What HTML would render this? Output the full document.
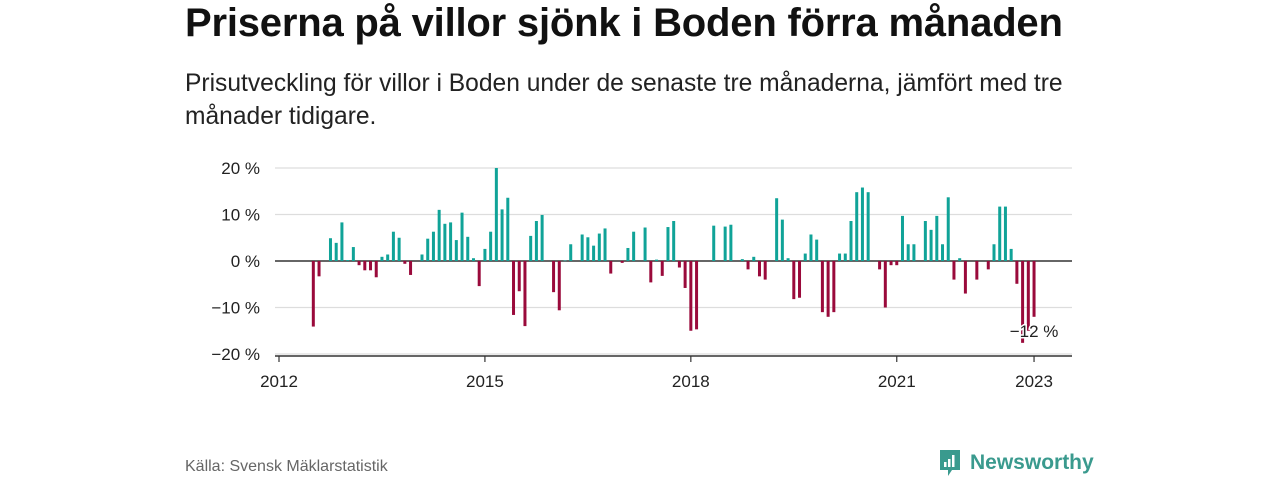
<!DOCTYPE html>
<html><head><meta charset="utf-8">
<style>
body{margin:0;background:#fff;font-family:"Liberation Sans","DejaVu Sans",sans-serif;}
#wrap{position:relative;width:1280px;height:480px;overflow:hidden;}
h1{position:absolute;left:185px;top:1px;margin:0;font-size:40px;font-weight:bold;color:#111;letter-spacing:-0.2px;white-space:nowrap;}
.sub{position:absolute;left:185px;top:67px;margin:0;font-size:24.6px;line-height:33px;color:#222;width:900px;}
.src{position:absolute;left:185px;top:458px;font-size:16px;color:#666;}
.logo{position:absolute;left:938px;top:448px;display:flex;align-items:center;}
.logo span{font-size:21px;font-weight:bold;color:#3a9a8e;margin-left:8px;}
</style></head><body>
<div id="wrap">
<h1>Priserna på villor sjönk i Boden förra månaden</h1>
<p class="sub">Prisutveckling för villor i Boden under de senaste tre månaderna, jämfört med tre månader tidigare.</p>
<svg id="chart" width="1280" height="480" style="position:absolute;left:0;top:0"></svg>
<div class="src">Källa: Svensk Mäklarstatistik</div>
<div class="logo">
<svg width="24" height="30" viewBox="0 0 24 30"><path d="M2 2h20v20h-8l-4 6v-6H2z" fill="#3a9a8e"/><rect x="6" y="14" width="2.5" height="5" fill="#fff"/><rect x="10" y="11" width="2.5" height="8" fill="#fff"/><rect x="14" y="7" width="2.5" height="12" fill="#fff"/></svg>
<span>Newsworthy</span></div>
</div>
<script>
const monthIdx=[6,7,9,10,11,12,13,14,15,16,17,18,19,20,21,22,23,25,26,27,28,29,30,31,32,33,34,35,36,37,38,39,40,41,42,43,44,45,46,48,49,50,51,53,54,55,56,57,58,60,61,62,64,65,66,67,68,69,70,71,72,73,76,78,79,81,82,83,84,85,87,88,89,90,91,92,93,94,95,96,97,98,99,100,101,102,103,105,106,107,108,109,110,111,113,114,115,116,117,118,119,120,122,124,125,126,127,128,129,130,131,132];
const values=[-14.1,-3.3,4.9,3.9,8.3,0.2,3.0,-0.9,-2.0,-2.0,-3.5,0.9,1.4,6.3,5.0,-0.6,-3.0,1.4,4.8,6.3,11.0,8.0,8.3,4.5,10.4,5.2,0.6,-5.4,2.6,6.3,20.0,11.1,13.6,-11.6,-6.5,-14.0,5.4,8.6,9.9,-6.7,-10.6,0.1,3.6,5.7,5.1,3.3,5.9,7.0,-2.7,-0.4,2.8,6.3,7.2,-4.6,0.3,-3.2,7.3,8.6,-1.4,-5.8,-15.0,-14.7,7.6,7.4,7.8,0.4,-1.8,0.9,-3.3,-4.0,13.5,8.9,0.6,-8.2,-7.9,1.6,5.7,4.6,-11.0,-12.0,-11.0,1.6,1.6,8.6,14.8,15.8,14.8,-1.8,-10.0,-0.9,-0.9,9.7,3.6,3.6,8.6,6.7,9.7,3.6,13.7,-4.0,0.6,-7.0,-4.0,-1.8,3.6,11.7,11.7,2.6,-4.9,-17.6,-15.0,-12.0];
const yTicks=[20,10,0,-10,-20];
const yTickLabels=["20 %","10 %","0 %","−10 %","−20 %"];
const xTickYears=[2012,2015,2018,2021,2023];
const lastLabel="−12 %";
const NS="http://www.w3.org/2000/svg";
const svg=document.getElementById('chart');
const x=m=>279+m*5.72;
const y=v=>261-v*4.65;
function el(t,a){const e=document.createElementNS(NS,t);for(const k in a)e.setAttribute(k,a[k]);svg.appendChild(e);return e;}
yTicks.forEach((t,i)=>{
  const g=el('line',{x1:275,x2:1072,y1:y(t),y2:y(t),stroke:t===0?'#333':'#ddd','stroke-width':t===0?1.5:1.2});
  
  
  const tx=el('text',{x:260,y:y(t)+6,'text-anchor':'end','font-size':17,fill:'#222','font-family':'Liberation Sans, sans-serif'});
  tx.textContent=yTickLabels[i];
  
  
});
monthIdx.forEach((m,i)=>{
  const v=values[i];
  const r=el('rect',{x:x(m)-1.5,width:3,y:v>=0?y(v):y(0),height:Math.max(Math.abs(y(v)-y(0)),0.6),fill:v>=0?'#10a398':'#9a0a3b'});
  
  
});
const ax=el('line',{x1:275,x2:1072,y1:356,y2:356,stroke:'#333','stroke-width':1.5});


xTickYears.forEach(yr=>{
  const xx=x((yr-2012)*12);
  const t=el('line',{x1:xx,x2:xx,y1:356,y2:362,stroke:'#333','stroke-width':1.2});
  
  
  const tx=el('text',{x:xx,y:387,'text-anchor':'middle','font-size':17,fill:'#222','font-family':'Liberation Sans, sans-serif'});
  tx.textContent=yr;
  
  
});
const lm=monthIdx[monthIdx.length-1];
const lb=el('text',{x:x(lm),y:337,'text-anchor':'middle','font-size':17,fill:'#222',stroke:'#fff','stroke-width':3,'paint-order':'stroke','font-family':'Liberation Sans, sans-serif'});
lb.textContent=lastLabel;


</script>
</body></html>
